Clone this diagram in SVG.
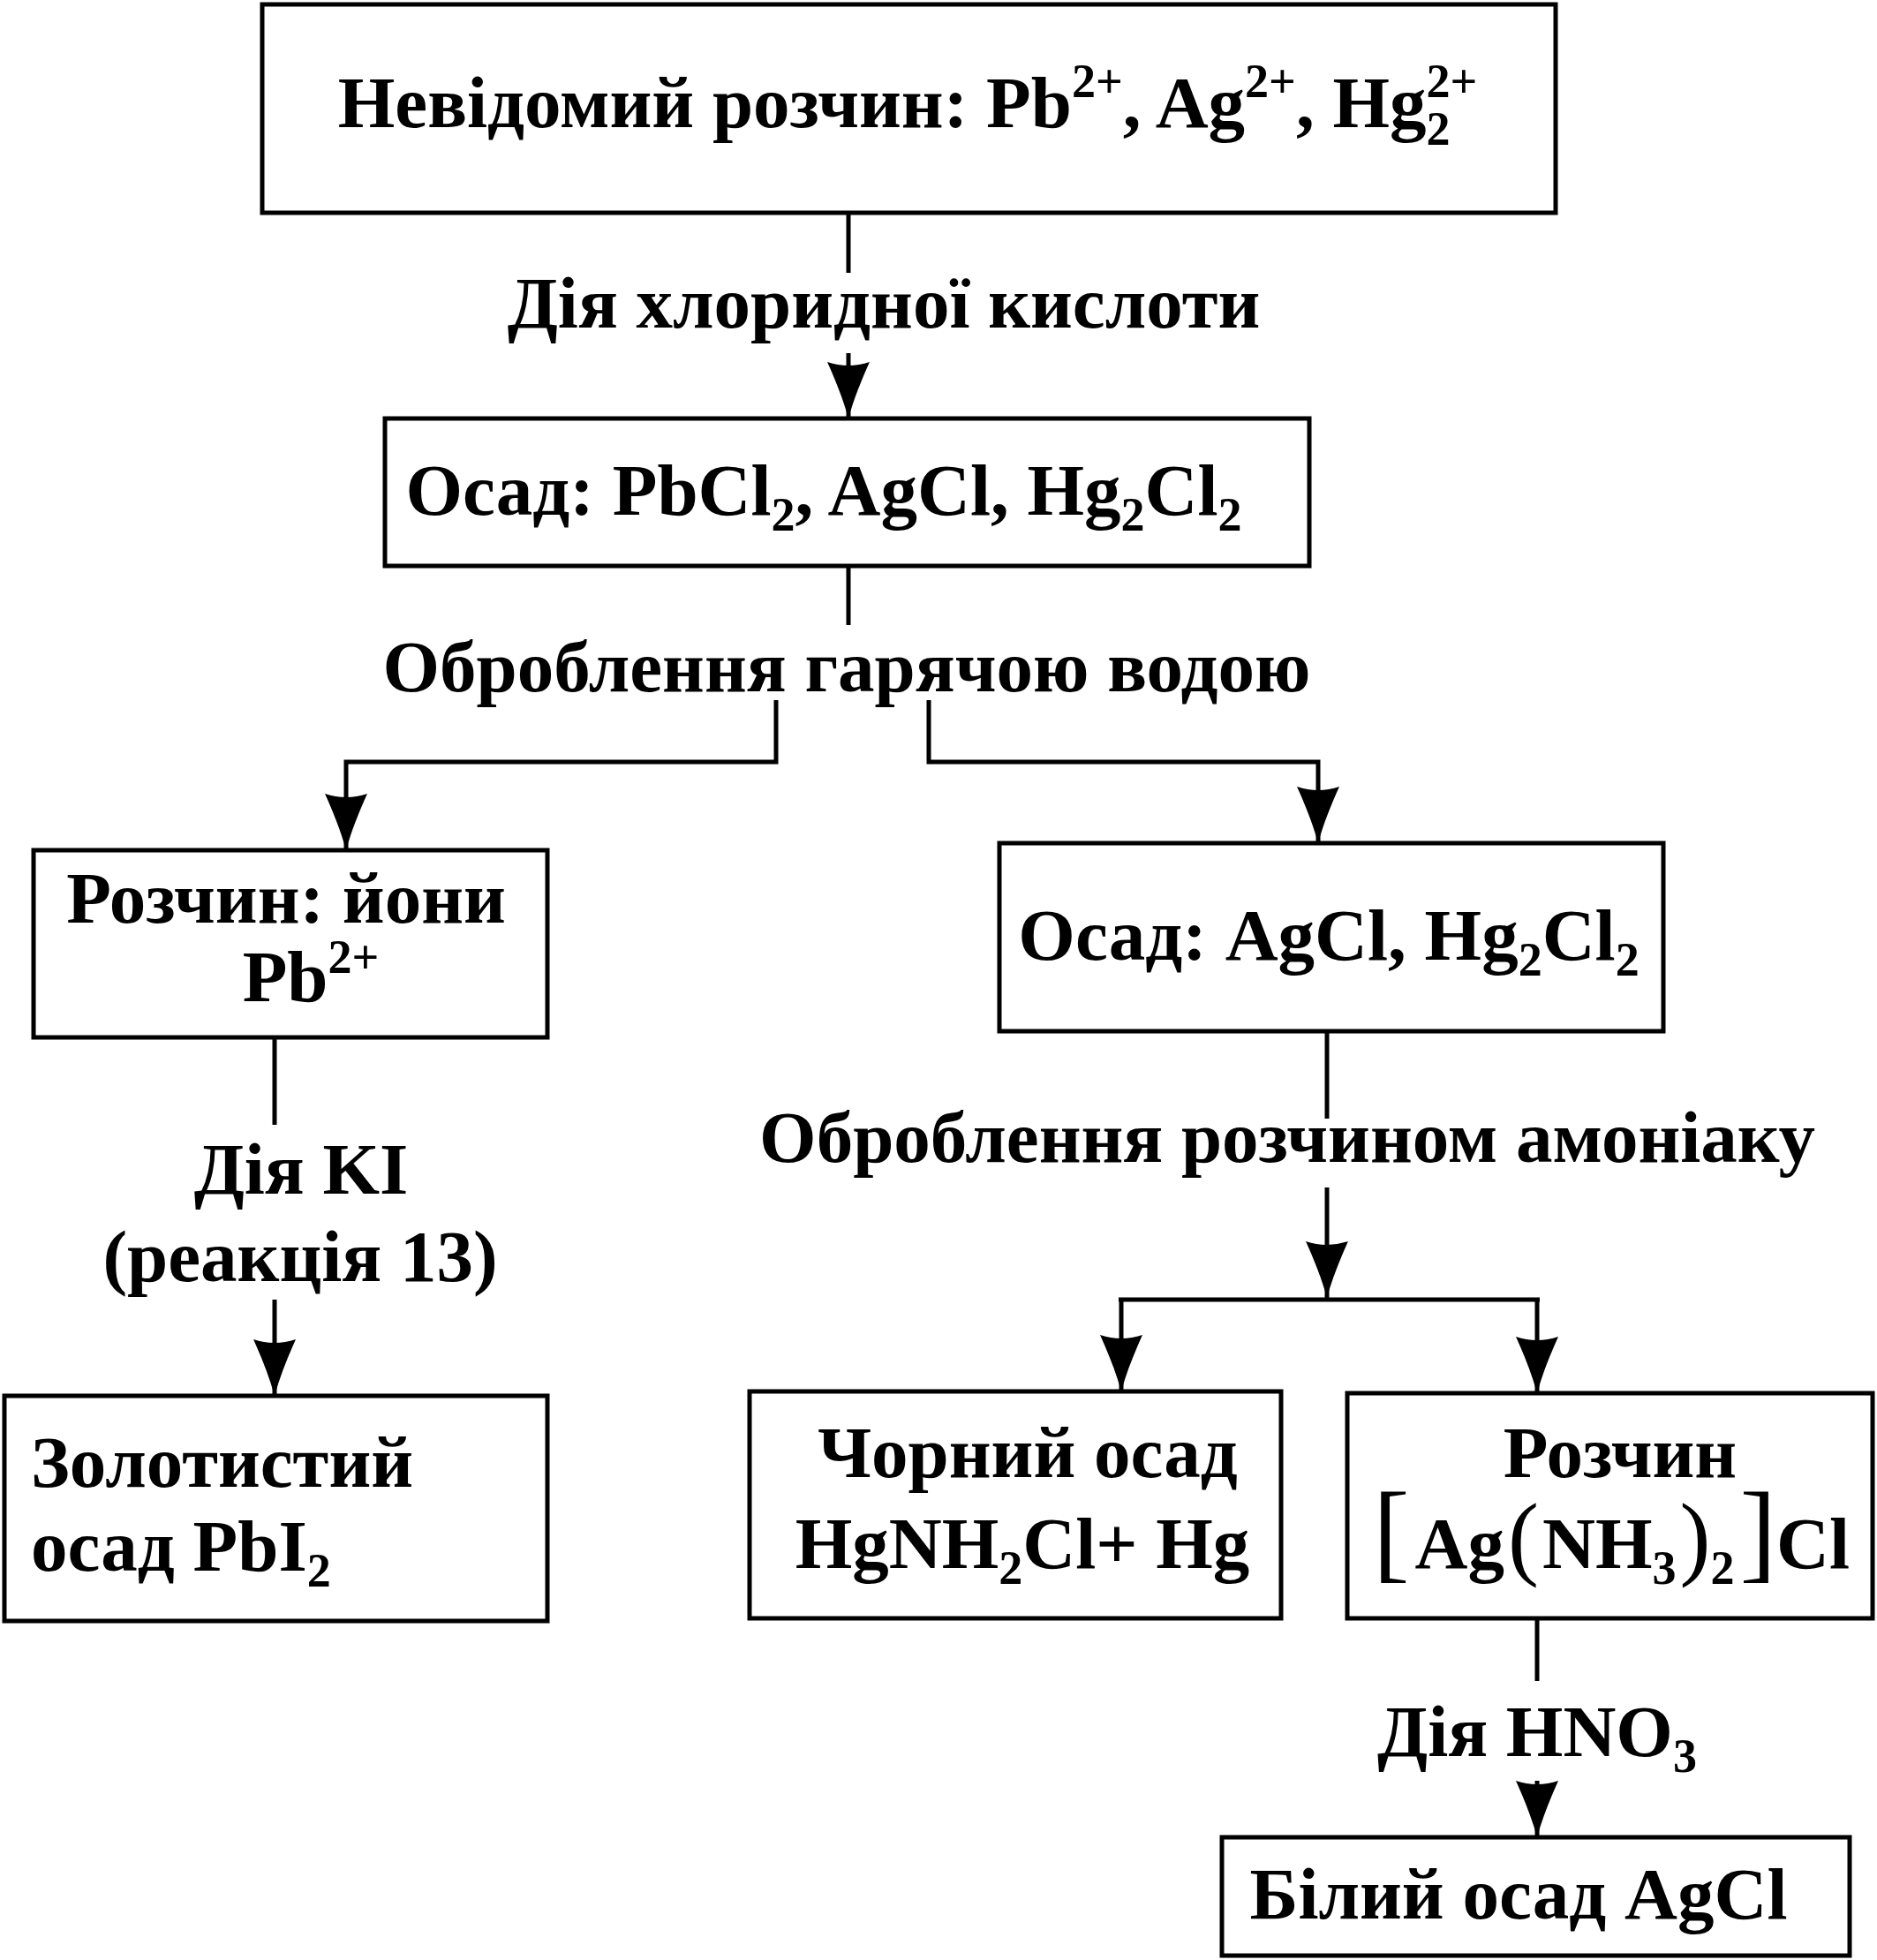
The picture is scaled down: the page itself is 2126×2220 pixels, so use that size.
<svg xmlns="http://www.w3.org/2000/svg" width="2126" height="2220" viewBox="0 0 2126 2220">
<style>
.box{fill:#fff;stroke:#000;stroke-width:5}
.t{font-family:"Liberation Serif","Times New Roman",serif;font-size:83px;font-weight:bold;fill:#000}
.s{font-size:54px}
.br{font-weight:normal}
.c{fill:none;stroke:#000;stroke-width:5}
</style>
<defs>
<marker id="ah" markerUnits="userSpaceOnUse" orient="auto" viewBox="-64 -26 66 52" refX="0" refY="0" markerWidth="66" markerHeight="52">
<path d="M0,0 C-22,-6 -44,-15 -64,-24 Q-60,-12 -60,0 Q-60,12 -64,24 C-44,15 -22,6 0,0 Z" fill="#000"/>
</marker>
</defs>
<rect width="2126" height="2220" fill="#fff"/>
<g id="connectors">
<path class="c" d="M961,241 V309"/>
<path class="c" d="M961,400 V474" marker-end="url(#ah)"/>
<path class="c" d="M961,641 V708"/>
<path class="c" d="M879,793 V863 H392 V963" marker-end="url(#ah)"/>
<path class="c" d="M1052,793 V863 H1493 V955" marker-end="url(#ah)"/>
<path class="c" d="M311,1175 V1274"/>
<path class="c" d="M311,1472 V1581" marker-end="url(#ah)"/>
<path class="c" d="M1503,1168 V1267"/>
<path class="c" d="M1503,1345 V1470" marker-end="url(#ah)"/>
<path class="c" d="M1267,1472 H1744"/>
<path class="c" d="M1270,1472 V1576" marker-end="url(#ah)"/>
<path class="c" d="M1741,1472 V1578" marker-end="url(#ah)"/>
<path class="c" d="M1741,1833 V1904"/>
<path class="c" d="M1741,2017 V2081" marker-end="url(#ah)"/>
<text class="t" x="1001" y="371" text-anchor="middle">Дія хлоридної кислоти</text>
<text class="t" x="959" y="783" text-anchor="middle">Оброблення гарячою водою</text>
<text class="t" x="341" y="1352" text-anchor="middle">Дія KI</text>
<text class="t" x="340" y="1451" text-anchor="middle">(реакція 13)</text>
<text class="t" x="1458" y="1316" text-anchor="middle">Оброблення розчином амоніаку</text>
<text class="t" x="1741" y="1989" text-anchor="middle">Дія HNO<tspan class="s" dy="18">3</tspan></text>
</g>
<g id="n1">
<rect class="box" x="297" y="5" width="1465" height="236"/>
<text class="t" x="1028" y="144" text-anchor="middle">Невідомий розчин: Pb<tspan class="s" dy="-34">2+</tspan><tspan dy="34">, Ag</tspan><tspan class="s" dy="-34">2+</tspan><tspan dy="34">, Hg</tspan><tspan class="s" dy="20">2</tspan><tspan class="s" dx="-27" dy="-54">2+</tspan></text>
</g>
<g id="n2">
<rect class="box" x="436" y="474" width="1047" height="167"/>
<text class="t" x="933" y="583" text-anchor="middle">Осад: PbCl<tspan class="s" dy="18">2</tspan><tspan dy="-18">, AgCl, Hg</tspan><tspan class="s" dy="18">2</tspan><tspan dy="-18">Cl</tspan><tspan class="s" dy="18">2</tspan></text>
</g>
<g id="n3">
<rect class="box" x="38" y="963" width="582" height="212"/>
<text class="t" x="324" y="1045" text-anchor="middle">Розчин: йони</text>
<text class="t" x="352" y="1134" text-anchor="middle">Pb<tspan class="s" dy="-32">2+</tspan></text>
</g>
<g id="n4">
<rect class="box" x="1132" y="955" width="752" height="213"/>
<text class="t" x="1505" y="1087" text-anchor="middle">Осад: AgCl, Hg<tspan class="s" dy="18">2</tspan><tspan dy="-18">Cl</tspan><tspan class="s" dy="18">2</tspan></text>
</g>
<g id="n5">
<rect class="box" x="5" y="1581" width="615" height="255"/>
<text class="t" x="35" y="1684">Золотистий</text>
<text class="t" x="35" y="1779">осад PbI<tspan class="s" dy="18">2</tspan></text>
</g>
<g id="n6">
<rect class="box" x="849" y="1576" width="602" height="257"/>
<text class="t" x="1164" y="1673" text-anchor="middle">Чорний осад</text>
<text class="t" x="1158" y="1776" text-anchor="middle">HgNH<tspan class="s" dy="18">2</tspan><tspan dy="-18">Cl+ Hg</tspan></text>
</g>
<g id="n7">
<rect class="box" x="1526" y="1578" width="595" height="255"/>
<text class="t" x="1835" y="1673" text-anchor="middle">Розчин</text>
<text class="t" x="1825" y="1776" text-anchor="middle"><tspan class="br" font-size="125">[</tspan><tspan dx="6">Ag</tspan><tspan class="br" font-size="105" dx="4">(</tspan><tspan dx="4">NH</tspan><tspan class="s" dy="18">3</tspan><tspan class="br" font-size="105" dy="-18" dx="4">)</tspan><tspan class="s" dy="18">2</tspan><tspan class="br" font-size="125" dy="-18" dx="6">]</tspan><tspan>Cl</tspan></text>
</g>
<g id="n8">
<rect class="box" x="1384" y="2081" width="711" height="134"/>
<text class="t" x="1720" y="2173" text-anchor="middle">Білий осад AgCl</text>
</g>
</svg>
